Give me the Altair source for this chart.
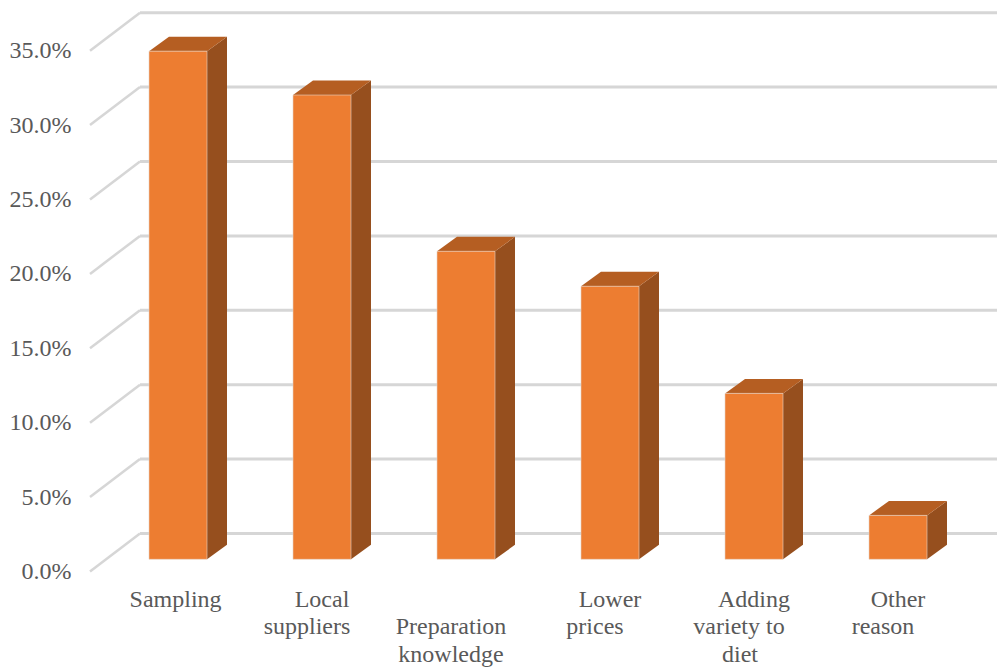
import altair as alt
import pandas as pd

# Survey results, one bar per reason (percent)
categories = ["Sampling", "Local suppliers", "Preparation knowledge",
              "Lower prices", "Adding variety to diet", "Other reason"]
values = [34.15, 31.2, 20.7, 18.35, 11.15, 2.95]
y_ticks = [0, 5, 10, 15, 20, 25, 30, 35]

# Category labels, one entry per printed line
label_lines = ["Sampling", "Local", "suppliers", "Preparation", "knowledge",
               "Lower", "prices", "Adding", "variety to", "diet", "Other", "reason"]
label_slots = [0, 1, 1, 2, 2, 3, 3, 4, 4, 4, 5, 5]
label_rows = [0, 0, 1, 1, 2, 0, 1, 0, 1, 2, 0, 1]
label_shifts = [-0.017, 0, -0.104, -0.104, -0.104, 0, -0.104, 0, -0.104, -0.097, 0, -0.104]

# Oblique-projection geometry, in axis units
PX_X = 1 / 144
PX_Y = 5 / 74.4
X_MIN, X_MAX = -88 * PX_X, 819 * PX_X
Y_MAX = 559.5 * PX_Y
HALF_W = 29 * PX_X
WALL_DX, WALL_DY = 50 * PX_X, 38 * PX_Y
BAR_DX, BAR_DY = 20 * PX_X, 14.5 * PX_Y
BASE = 12.2 * PX_Y

x_scale = alt.Scale(domain=[X_MIN, X_MAX], nice=False, zero=False)
y_scale = alt.Scale(domain=[0, Y_MAX], nice=False, zero=False)

front, side, top = [], [], []
for i, (name, v) in enumerate(zip(categories, values)):
    x0, x1 = i - HALF_W, i + HALF_W
    y0, y1 = BASE, BASE + v
    front.append({"name": name, "x0": x0, "x1": x1, "y0": y0, "y1": y1})
    side += [
        {"name": name, "x": x1, "lo": y0, "hi": y1},
        {"name": name, "x": x1 + BAR_DX, "lo": y0 + BAR_DY, "hi": y1 + BAR_DY},
    ]
    top += [
        {"name": name, "x": x0, "lo": y1, "hi": y1},
        {"name": name, "x": x0 + BAR_DX, "lo": y1, "hi": y1 + BAR_DY},
        {"name": name, "x": x1, "lo": y1, "hi": y1 + BAR_DY},
        {"name": name, "x": x1 + BAR_DX, "lo": y1 + BAR_DY, "hi": y1 + BAR_DY},
    ]

grid = pd.DataFrame({"tick": y_ticks})
grid["x_front"] = X_MIN
grid["x_wall"] = X_MIN + WALL_DX
grid["x_end"] = X_MAX
grid["y_wall"] = grid["tick"] + WALL_DY

GRID = "#d6d6d6"
FONT = "Liberation Serif"
TEXT = "#595959"
X_ENC = alt.X("x:Q", scale=x_scale, axis=None)

# Value axis on the front plane, without line or ticks; every layer shares it
y_axis = alt.Axis(
    values=y_ticks, format=".1f", labelExpr="datum.label + '%'",
    title=None, domain=False, ticks=False, grid=False, labelPadding=19,
    labelFont=FONT, labelFontSize=24, labelColor=TEXT)

# Floor-to-wall diagonals and the horizontal lines along the back wall
diagonals = alt.Chart(grid).mark_rule(color=GRID, strokeWidth=2.5).encode(
    x=alt.X("x_front:Q", scale=x_scale, axis=None), x2="x_wall:Q",
    y=alt.Y("tick:Q", scale=y_scale, axis=y_axis), y2="y_wall:Q",
)
wall = alt.Chart(grid).mark_rule(color=GRID, strokeWidth=3).encode(
    x=alt.X("x_wall:Q", scale=x_scale, axis=None), x2="x_end:Q",
    y=alt.Y("y_wall:Q", scale=y_scale, axis=y_axis),
)

def face(rows, color):
    return alt.Chart(pd.DataFrame(rows)).mark_area(color=color, interpolate="linear").encode(
        x=X_ENC,
        y=alt.Y("lo:Q", scale=y_scale, axis=y_axis, stack=None),
        y2="hi:Q",
        detail="name:N",
    )

side_faces = face(side, "#964f1e")
top_faces = face(top, "#b55e22")
front_faces = alt.Chart(pd.DataFrame(front)).mark_bar(
    color="#ed7d31", stroke="#e6d5c8", strokeWidth=0.6).encode(
    x=alt.X("x0:Q", scale=x_scale, axis=None), x2="x1:Q",
    y=alt.Y("y0:Q", scale=y_scale, axis=y_axis), y2="y1:Q",
)

labels = pd.DataFrame({"text": label_lines, "slot": label_slots,
                       "row": label_rows, "shift": label_shifts})
labels["x"] = labels["slot"] + labels["shift"]

# Printed rows below the plot, measured from the top of the plot area
ROW_Y = [587.5, 615, 642.5]
text_layers = [
    alt.Chart(labels[labels["row"] == r]).mark_text(
        font=FONT, fontSize=24, color=TEXT, align="center", baseline="middle").encode(
        x=X_ENC, y=alt.value(ROW_Y[r]), text="text:N")
    for r in range(3)
]

chart = alt.layer(diagonals, wall, side_faces, top_faces, front_faces,
                  *text_layers).properties(
    width=907, height=559.5,
    padding={"left": 90, "top": 12, "right": 0, "bottom": 95.5},
    autosize=alt.AutoSizeParams(type="none"),
    background="white",
).configure_view(stroke=None)

chart.save("out.html", embed_options={"renderer": "svg", "actions": False})
